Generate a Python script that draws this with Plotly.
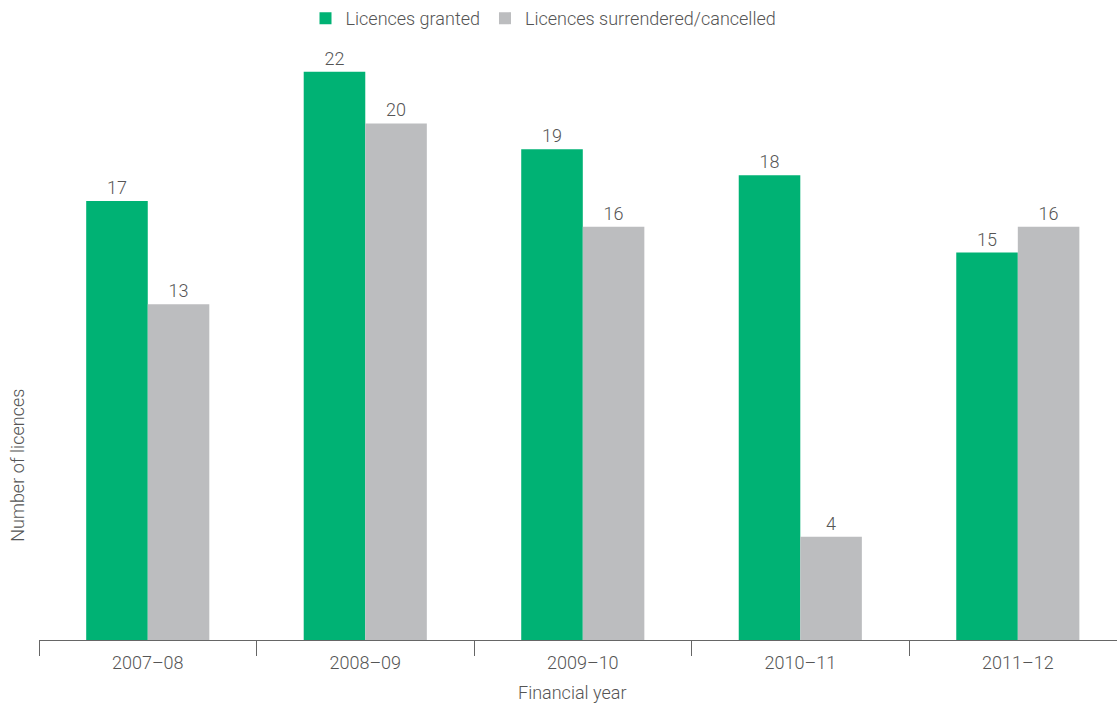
import plotly.graph_objects as go

years = ["2007–08", "2008–09", "2009–10", "2010–11", "2011–12"]
granted = [17, 22, 19, 18, 15]
surrendered = [13, 20, 16, 4, 16]

FONT = "Roboto"
W = 300
TXT = "#555555"
SZ = 18

def f(size=SZ):
    return dict(family=FONT, size=size, color=TXT, weight=W)

fig = go.Figure()
fig.add_trace(go.Bar(
    x=years, y=granted, name="Licences granted",
    marker=dict(color="#00b274", line=dict(width=0)),
    text=granted, textposition="outside", cliponaxis=False,
    textfont=f(),
))
fig.add_trace(go.Bar(
    x=years, y=surrendered, name="Licences surrendered/cancelled",
    marker=dict(color="#bcbdbf", line=dict(width=0)),
    text=surrendered, textposition="outside", cliponaxis=False,
    textfont=f(),
))

fig.update_layout(
    width=1117, height=704,
    margin=dict(l=39, r=0, t=46, b=64),
    paper_bgcolor="white", plot_bgcolor="white",
    barmode="group", bargap=0.434, bargroupgap=0,
    font=f(),
    showlegend=True,
    legend=dict(orientation="h", x=0.468, xanchor="center", y=1.047, yanchor="middle",
                font=f(),
                itemwidth=30, itemsizing="constant", tracegroupgap=0),
    xaxis=dict(
        type="category", range=[-0.5, 4.456],
        showline=True, linecolor="#666666", linewidth=1,
        ticks="outside", tickson="boundaries", ticklen=15, tickcolor="#666666", tickwidth=1,
        ticklabelstandoff=6,
        showgrid=False, zeroline=False,
        tickfont=f(),
    ),
    yaxis=dict(
        range=[0, 23], showticklabels=False, showgrid=False, zeroline=False,
        showline=False, ticks="",
    ),
    annotations=[
        dict(text="Number of licences", xref="paper", yref="paper",
             x=-0.0195, y=0.295, textangle=-90, showarrow=False,
             xanchor="center", yanchor="middle", font=f()),
        dict(text="Financial year", xref="paper", yref="paper",
             x=0.494, y=-0.089, showarrow=False,
             xanchor="center", yanchor="middle", font=f()),
    ],
)

fig.write_html("out.html")
